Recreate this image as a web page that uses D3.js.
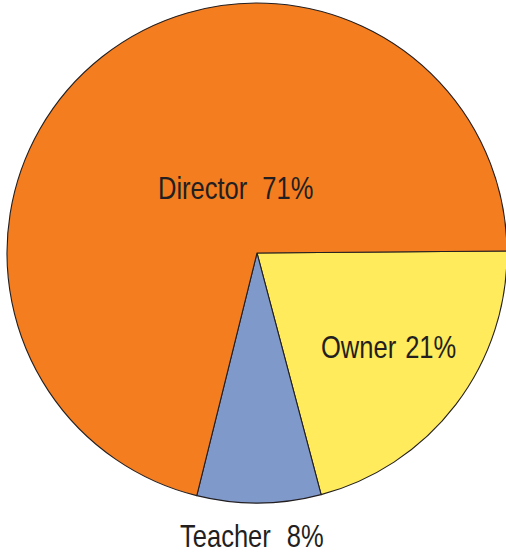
<!DOCTYPE html>
<html>
<head>
<meta charset="utf-8">
<script src="https://cdn.jsdelivr.net/npm/d3@7"></script>
<style>
  html, body { margin: 0; padding: 0; background: #fff; }
  svg { display: block; }
  text { font-family: "Liberation Sans", Arial, sans-serif; fill: #231F20; }
</style>
</head>
<body>
<svg id="chart" width="506" height="554"></svg>
<script>
// Data
const categories = ["Owner", "Teacher", "Director"];
const values = [21, 8, 71];
const valueLabels = ["21%", "8%", "71%"];

// Styles / layout (kept separate from data)
const colors = { Owner: "#FFEB5B", Teacher: "#8099CB", Director: "#F47D20" };
const labelPos = {
  Director: { x: 158, y: 199, gap: 15 },
  Owner:    { x: 321, y: 358, gap: 9 },
  Teacher:  { x: 180, y: 547, gap: 16 }
};
const squeeze = 0.81;
const cx = 257, cy = 253, R = 250;
const startAngle = 89.54 * Math.PI / 180;

const svg = d3.select("#chart");
const g = svg.append("g").attr("transform", `translate(${cx},${cy})`);

const data = categories.map((c, i) => ({ name: c, value: values[i], label: valueLabels[i] }));
const pie = d3.pie().sort(null).value(d => d.value)
  .startAngle(startAngle).endAngle(startAngle + 2 * Math.PI);
const arc = d3.arc().innerRadius(0).outerRadius(R);

g.selectAll("path").data(pie(data)).join("path")
  .attr("d", arc)
  .attr("fill", d => colors[d.data.name])
  .attr("stroke", "#231F20")
  .attr("stroke-width", 1.1)
  .attr("stroke-linejoin", "round");

const labels = svg.selectAll("text.lbl").data(data).join("text")
  .attr("class", "lbl")
  .attr("transform", d => `translate(${labelPos[d.name].x},${labelPos[d.name].y}) scale(${squeeze},1)`)
  .attr("font-size", 31.5);
labels.append("tspan").text(d => d.name);
labels.append("tspan").attr("dx", d => labelPos[d.name].gap / squeeze).text(d => d.label);
</script>
</body>
</html>
